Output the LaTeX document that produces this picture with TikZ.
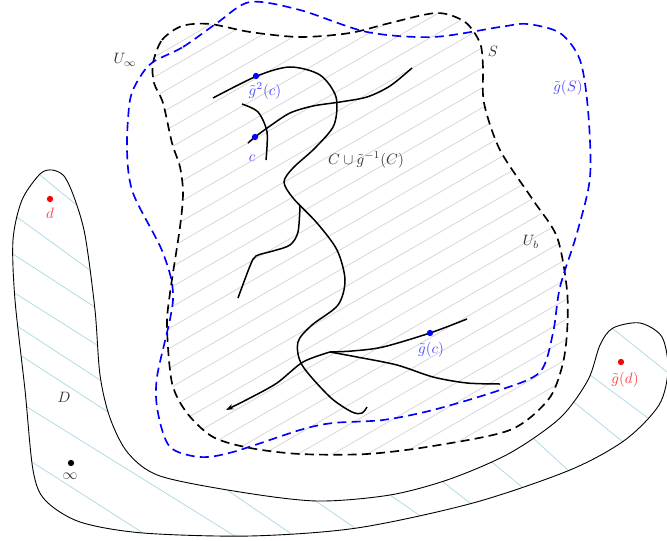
\documentclass[tikz,border=0pt]{standalone}
\usetikzlibrary{arrows.meta}
\definecolor{hatchblue}{RGB}{173,216,230}
\begin{document}
\begin{tikzpicture}[x=0.667pt,y=-0.667pt,
  sline/.style={line width=1.1pt,dash pattern=on 6pt off 3.5pt},
  curve/.style={line width=1pt},
  hatchS/.style={gray!35,line width=0.45pt},
  hatchD/.style={hatchblue,line width=0.5pt,shorten <=-4pt,shorten >=-4pt},
  dot/.style={circle,inner sep=0pt,minimum size=4.2pt},
  lab/.style={inner sep=1pt,text=black!80},
  blab/.style={inner sep=1pt,text=blue!70},
  rlab/.style={inner sep=1pt,text=red!75}]
\useasboundingbox (0,0) rectangle (667,541);

% gray hatching inside S
\begin{scope}
\clip plot[smooth cycle] coordinates {(153,63) (162,40) (182,26) (210,24) (250,32) (300,37) (350,33) (390,23) (437,13) (465,22) (480,43) (483,67) (484,103) (500,150) (533,200) (557,237) (567,290) (567,333) (562,367) (548,400) (510,430) (433,446) (367,454) (300,454) (250,448) (213,437) (187,413) (172,383) (167,327) (170,293) (180,227) (183,193) (180,167) (172,143) (163,103) (154,83)};
\foreach \k in {5,...,38}
  \draw[hatchS] (100,{\k*20+6-57.7}) -- (620,{\k*20+6-357.7});
\end{scope}

% D region hatching
\begin{scope}
\clip plot[smooth cycle] coordinates {(40,174) (52,170) (64,176) (74,197) (85,235) (95,310) (100,375) (110,418) (128,453) (160,476) (240,492) (317,501) (390,495) (450,479) (510,453) (560,418) (588,380) (600,345) (613,328) (640,323) (662,337) (668,370) (659,405) (625,440) (570,470) (473,503) (357,528) (250,536) (143,533) (80,522) (45,500) (33,470) (25,390) (15,300) (13,240) (22,200)};
\draw[hatchD] (40,175) -- (73,202);
\draw[hatchD] (17,217) -- (87,268);
\draw[hatchD] (13,254) -- (93,306);
\draw[hatchD] (13,292) -- (97,345);
\draw[hatchD] (17,326) -- (100,380);
\draw[hatchD] (20,355) -- (108,412);
\draw[hatchD] (230,492) -- (293,535);
\draw[hatchD] (27,407) -- (230,533);
\draw[hatchD] (32,462) -- (143,533);
\draw[hatchD] (317,502) -- (355,528);
\draw[hatchD] (390,495) -- (422,517);
\draw[hatchD] (443,482) -- (470,503);
\draw[hatchD] (493,463) -- (522,487);
\draw[hatchD] (533,438) -- (570,472);
\draw[hatchD] (575,403) -- (623,442);
\draw[hatchD] (590,375) -- (648,418);
\draw[hatchD] (612,328) -- (667,372);
\end{scope}
\draw[line width=0.6pt] plot[smooth cycle] coordinates {(40,174) (52,170) (64,176) (74,197) (85,235) (95,310) (100,375) (110,418) (128,453) (160,476) (240,492) (317,501) (390,495) (450,479) (510,453) (560,418) (588,380) (600,345) (613,328) (640,323) (662,337) (668,370) (659,405) (625,440) (570,470) (473,503) (357,528) (250,536) (143,533) (80,522) (45,500) (33,470) (25,390) (15,300) (13,240) (22,200)};

% S (black dashed)
\draw[sline] plot[smooth cycle] coordinates {(153,63) (162,40) (182,26) (210,24) (250,32) (300,37) (350,33) (390,23) (437,13) (465,22) (480,43) (483,67) (484,103) (500,150) (533,200) (557,237) (567,290) (567,333) (562,367) (548,400) (510,430) (433,446) (367,454) (300,454) (250,448) (213,437) (187,413) (172,383) (167,327) (170,293) (180,227) (183,193) (180,167) (172,143) (163,103) (154,83)};

% g(S) (blue dashed)
\draw[sline,blue] plot[smooth cycle] coordinates {(153,62) (183,47) (217,23) (250,2) (300,10) (367,32) (433,37) (500,27) (527,24) (560,33) (580,60) (588,110) (590,177) (577,233) (560,287) (553,333) (540,372) (500,390) (433,410) (383,420) (333,423) (300,430) (233,452) (200,457) (170,447) (158,413) (157,377) (173,300) (163,253) (133,193) (127,150) (130,100) (140,77)};

% curves C and g^{-1}(C)
\draw[curve] plot[smooth] coordinates {(213,98) (257,76) (290,67) (320,75) (336,97) (334,125) (315,148) (293,168) (284,182) (293,198) (317,223) (337,250) (345,280) (338,305) (312,325) (298,342) (302,365) (330,397) (352,412) (362,413) (367,407)};
\draw[curve] plot[smooth] coordinates {(248,143) (255,137) (270,126) (290,113) (313,106) (340,102) (367,97) (390,86) (412,68)};
\draw[curve] plot[smooth] coordinates {(242,104) (258,112) (267,132) (266,160)};
\draw[curve] plot[smooth] coordinates {(300,205) (298,232) (290,245) (273,251) (256,256) (250,266) (238,298)};
\draw[curve,-{Stealth[length=5pt,width=3.5pt]}] plot[smooth] coordinates {(330,352) (303,362) (277,383) (250,398) (226,410)};
\draw[curve] plot[smooth] coordinates {(330,352) (352,351) (383,347) (430,333) (467,319)};
\draw[curve] plot[smooth] coordinates {(330,352) (357,357) (397,365) (433,377) (467,383) (500,384)};

% dots
\node[dot,fill=blue] (g2c) at (256,76) {};
\node[dot,fill=blue] (c) at (255,137) {};
\node[dot,fill=blue] (gc) at (430,333) {};
\node[dot,fill=red] (d) at (50,199) {};
\node[dot,fill=red] (gd) at (621,362) {};
\node[dot,fill=black] (inf) at (71,463) {};

% labels
\node[lab] (lUinf) at (125,60) {$U_\infty$};
\node[lab] (lS) at (493,51) {$S$};
\node[blab] (lgS) at (568,88) {$\tilde g(S)$};
\node[lab] (lUb) at (531,242) {$U_b$};
\node[lab] (lC) at (366,160) {$C\cup\tilde g^{-1}(C)$};
\node[blab] (lg2c) at (265,91) {$\tilde g^2(c)$};
\node[blab] (lc) at (252,158) {$c$};
\node[blab] (lgc) at (431,350) {$\tilde g(c)$};
\node[rlab] (ld) at (50,213) {$d$};
\node[rlab] (lgd) at (625,380) {$\tilde g(d)$};
\node[lab] (lD) at (64,397) {$D$};
\node[lab] (linf) at (70,476) {$\infty$};
\end{tikzpicture}
\end{document}
